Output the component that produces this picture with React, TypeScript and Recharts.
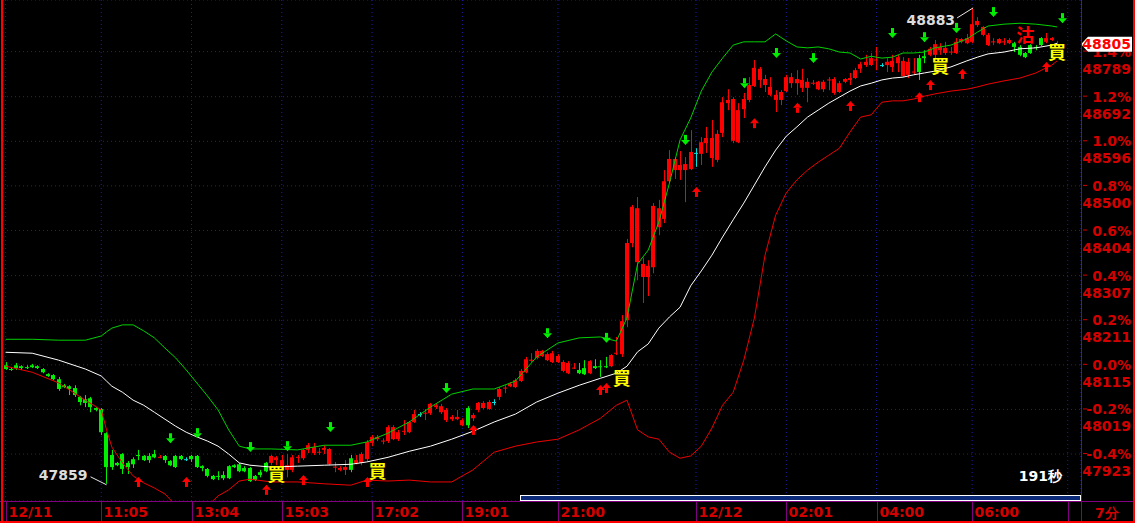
import React from 'react';
import {
  ComposedChart,
  Bar,
  Line,
  XAxis,
  YAxis,
  CartesianGrid,
} from 'recharts';

// 7-minute candles: [open, high, low, close]
const ohlc: [number, number, number, number][] = [
  [48114, 48121, 48104, 48106], [48106, 48110, 48102, 48105], [48114, 48119, 48104, 48108], [48112, 48114, 48104, 48108],
  [48110, 48114, 48106, 48109], [48114, 48117, 48108, 48110], [48112, 48114, 48106, 48108], [48106, 48108, 48097, 48099],
  [48095, 48097, 48089, 48091], [48093, 48095, 48082, 48084], [48084, 48089, 48059, 48063], [48071, 48074, 48065, 48067],
  [48069, 48071, 48050, 48063], [48065, 48071, 48046, 48050], [48046, 48048, 48028, 48035], [48041, 48050, 48024, 48033],
  [48043, 48046, 48013, 48024], [48022, 48024, 48015, 48018], [48020, 48022, 47964, 47970], [47968, 47970, 47859, 47895],
  [47921, 47932, 47889, 47895], [47904, 47906, 47897, 47899], [47923, 47925, 47880, 47891], [47904, 47908, 47880, 47895],
  [47912, 47916, 47893, 47901], [47921, 47932, 47910, 47920], [47919, 47921, 47908, 47910], [47919, 47925, 47904, 47910],
  [47923, 47932, 47914, 47916], [47916, 47921, 47914, 47917], [47919, 47921, 47904, 47910], [47908, 47910, 47897, 47899],
  [47919, 47921, 47893, 47895], [47919, 47921, 47910, 47912], [47912, 47916, 47908, 47912], [47919, 47921, 47906, 47912],
  [47919, 47921, 47893, 47895], [47897, 47899, 47886, 47893], [47891, 47893, 47873, 47876], [47876, 47878, 47867, 47869],
  [47876, 47886, 47867, 47874], [47878, 47886, 47867, 47871], [47897, 47899, 47869, 47871], [47899, 47901, 47893, 47895],
  [47901, 47904, 47884, 47886], [47893, 47897, 47884, 47886], [47893, 47895, 47863, 47865], [47876, 47878, 47865, 47867],
  [47884, 47889, 47873, 47878], [47904, 47906, 47884, 47886], [47904, 47921, 47899, 47919], [47910, 47919, 47899, 47916],
  [47897, 47921, 47889, 47910], [47889, 47923, 47873, 47899], [47889, 47921, 47884, 47916], [47916, 47921, 47904, 47917],
  [47914, 47934, 47910, 47932], [47932, 47947, 47925, 47942], [47925, 47947, 47921, 47938], [47927, 47936, 47921, 47928],
  [47932, 47942, 47923, 47936], [47901, 47936, 47899, 47934], [47895, 47906, 47884, 47896], [47889, 47897, 47886, 47893],
  [47889, 47910, 47878, 47895], [47914, 47921, 47884, 47889], [47904, 47921, 47901, 47910], [47904, 47927, 47899, 47923],
  [47912, 47953, 47908, 47949], [47947, 47964, 47940, 47960], [47955, 47964, 47951, 47960], [47951, 47957, 47944, 47952],
  [47951, 47985, 47947, 47981], [47955, 47985, 47953, 47981], [47955, 47975, 47951, 47970], [47972, 47996, 47964, 47973],
  [47970, 47994, 47968, 47992], [47992, 48018, 47990, 48009], [48009, 48013, 48003, 48009], [48011, 48020, 47996, 48012],
  [48011, 48033, 48007, 48031], [48024, 48033, 48020, 48028], [48013, 48031, 48009, 48026], [47996, 48022, 47992, 48018],
  [47998, 48007, 47994, 48003], [47998, 48018, 47996, 48003], [47985, 48000, 47983, 47996], [48022, 48026, 47979, 47985],
  [48000, 48011, 47994, 48007], [48018, 48035, 48013, 48033], [48022, 48037, 48020, 48033], [48020, 48039, 48018, 48035],
  [48035, 48041, 48028, 48035], [48046, 48067, 48039, 48063], [48065, 48071, 48054, 48066], [48069, 48078, 48067, 48074],
  [48067, 48086, 48065, 48082], [48080, 48106, 48078, 48102], [48099, 48132, 48097, 48127], [48125, 48140, 48121, 48126],
  [48130, 48149, 48127, 48145], [48134, 48147, 48132, 48145], [48125, 48142, 48123, 48138], [48121, 48145, 48119, 48140],
  [48121, 48138, 48119, 48134], [48102, 48125, 48099, 48121], [48097, 48123, 48095, 48119], [48108, 48119, 48106, 48109],
  [48104, 48119, 48095, 48097], [48108, 48125, 48093, 48095], [48097, 48125, 48095, 48123], [48112, 48127, 48106, 48108],
  [48112, 48125, 48089, 48111], [48112, 48132, 48108, 48110], [48112, 48138, 48110, 48136], [48140, 48175, 48136, 48141],
  [48138, 48222, 48132, 48209], [48211, 48386, 48196, 48377], [48377, 48459, 48368, 48455], [48336, 48476, 48297, 48452],
  [48304, 48345, 48248, 48332], [48304, 48340, 48263, 48328], [48325, 48463, 48312, 48457], [48411, 48470, 48394, 48452],
  [48429, 48534, 48420, 48510], [48510, 48577, 48508, 48558], [48534, 48562, 48515, 48558], [48534, 48575, 48513, 48545],
  [48534, 48562, 48465, 48547], [48536, 48620, 48534, 48573], [48571, 48581, 48541, 48571], [48569, 48605, 48545, 48594],
  [48592, 48627, 48571, 48603], [48560, 48642, 48541, 48603], [48556, 48620, 48551, 48612], [48614, 48691, 48605, 48680],
  [48678, 48708, 48663, 48685], [48597, 48691, 48592, 48687], [48594, 48678, 48592, 48663], [48665, 48700, 48646, 48687],
  [48685, 48734, 48680, 48717], [48715, 48771, 48713, 48754], [48728, 48756, 48711, 48752], [48717, 48739, 48702, 48730],
  [48696, 48734, 48693, 48713], [48685, 48706, 48659, 48696], [48685, 48706, 48674, 48702], [48704, 48739, 48702, 48734],
  [48721, 48743, 48711, 48734], [48721, 48749, 48696, 48730], [48711, 48752, 48702, 48728], [48711, 48732, 48680, 48724],
  [48721, 48728, 48717, 48722], [48708, 48726, 48706, 48724], [48708, 48728, 48702, 48724], [48728, 48734, 48706, 48729],
  [48700, 48734, 48696, 48730], [48702, 48726, 48700, 48721], [48724, 48732, 48721, 48730], [48728, 48743, 48717, 48732],
  [48732, 48754, 48730, 48749], [48752, 48767, 48743, 48762], [48760, 48782, 48756, 48767], [48760, 48786, 48758, 48775],
  [48771, 48799, 48749, 48772], [48760, 48764, 48756, 48760], [48760, 48775, 48745, 48767], [48756, 48782, 48745, 48769],
  [48764, 48782, 48745, 48777], [48736, 48777, 48734, 48769], [48739, 48775, 48732, 48767], [48745, 48775, 48739, 48746],
  [48775, 48782, 48728, 48745], [48779, 48792, 48764, 48775], [48782, 48799, 48779, 48795], [48782, 48814, 48775, 48805],
  [48792, 48807, 48782, 48799], [48786, 48810, 48782, 48797], [48788, 48799, 48782, 48789], [48786, 48818, 48784, 48810],
  [48810, 48818, 48807, 48816], [48807, 48827, 48805, 48818], [48810, 48883, 48807, 48848], [48846, 48863, 48842, 48855],
  [48825, 48844, 48822, 48842], [48803, 48829, 48801, 48825], [48810, 48818, 48803, 48811], [48807, 48818, 48805, 48816],
  [48810, 48818, 48803, 48811], [48807, 48818, 48805, 48814], [48807, 48810, 48788, 48799], [48799, 48803, 48779, 48782],
  [48786, 48788, 48775, 48777], [48803, 48805, 48784, 48786], [48799, 48803, 48792, 48798], [48818, 48820, 48801, 48803],
  [48810, 48829, 48807, 48818], [48814, 48820, 48812, 48818], [48803, 48812, 48801, 48805],
];

// Bollinger bands, read at these candle slots
const bandIdx = [0, 5, 10, 15, 18, 19, 20, 22, 24, 26, 28, 30, 32, 34, 36, 38, 40, 42, 44, 46, 50, 55, 60, 65, 68, 72, 76, 80, 84, 88, 92, 96, 100, 104, 108, 112, 115, 117, 119, 121, 123, 125, 127, 129, 131, 133, 135, 137, 139, 141, 143, 145, 147, 149, 151, 153, 155, 157, 159, 161, 163, 165, 167, 169, 171, 173, 175, 178, 181, 183, 185, 188, 191, 194, 197, 198];
const upperBand = [48170, 48170, 48168, 48168, 48177, 48186, 48194, 48201, 48201, 48188, 48173, 48151, 48130, 48104, 48076, 48048, 48018, 47975, 47940, 47934, 47934, 47932, 47942, 47942, 47949, 47968, 47992, 48024, 48052, 48063, 48063, 48080, 48132, 48162, 48173, 48175, 48166, 48216, 48332, 48362, 48422, 48506, 48599, 48646, 48704, 48745, 48775, 48803, 48810, 48810, 48810, 48827, 48812, 48799, 48797, 48799, 48795, 48788, 48786, 48773, 48779, 48775, 48777, 48786, 48786, 48788, 48797, 48803, 48816, 48831, 48844, 48848, 48850, 48848, 48844, 48842];
const midBand = [48142, 48140, 48125, 48106, 48091, 48080, 48069, 48056, 48039, 48028, 48013, 47998, 47983, 47970, 47960, 47951, 47940, 47923, 47904, 47899, 47895, 47897, 47899, 47901, 47906, 47916, 47929, 47940, 47955, 47972, 47992, 48009, 48035, 48054, 48071, 48086, 48097, 48112, 48143, 48160, 48194, 48218, 48239, 48285, 48317, 48351, 48390, 48427, 48463, 48502, 48541, 48577, 48607, 48627, 48648, 48663, 48678, 48691, 48704, 48715, 48721, 48728, 48732, 48734, 48739, 48743, 48747, 48756, 48769, 48777, 48784, 48788, 48795, 48797, 48803, 48807];
const lowerBand = [48112, 48099, 48076, 48039, 48018, 47975, 47938, 47904, 47876, 47861, 47850, 47837, 47813, 47802, 47802, 47811, 47833, 47846, 47865, 47869, 47863, 47863, 47859, 47856, 47867, 47865, 47867, 47863, 47863, 47889, 47927, 47940, 47949, 47955, 47975, 48000, 48028, 48039, 47975, 47960, 47955, 47927, 47914, 47919, 47940, 47979, 48028, 48056, 48125, 48216, 48351, 48437, 48485, 48513, 48534, 48551, 48566, 48581, 48616, 48648, 48653, 48680, 48683, 48683, 48687, 48693, 48698, 48704, 48708, 48713, 48719, 48726, 48732, 48743, 48760, 48769];

// signal marks
const sellIdx = [31, 36, 46, 53, 61, 83, 102, 113, 128, 139, 145, 152, 167, 173, 179, 186, 199];
const sellPx = [47957, 47968, 47938, 47940, 47981, 48065, 48183, 48173, 48599, 48721, 48786, 48775, 48829, 48820, 48840, 48874, 48861];
const upIdx = [25, 34, 49, 56, 68, 88, 112, 113, 130, 141, 149, 159, 172, 174, 180, 196];
const upPx = [47863, 47863, 47846, 47867, 47863, 47975, 48061, 48065, 48487, 48635, 48668, 48672, 48691, 48717, 48741, 48756];
const buyIdx = [51, 70, 116, 176, 198];
const buyPx = [47880, 47886, 48086, 48758, 48788];
const outIdx = [192];
const outPx = [48825];

const xTickIdx = [0, 18, 35, 52, 69, 86, 104, 130, 147, 164, 182, 200];
const xTickLabels = ['12/11', '11:05', '13:04', '15:03', '17:02', '19:01', '21:00', '12/12', '02:01', '04:00', '06:00', ''];
const priceTicks = [47923, 48019, 48115, 48211, 48307, 48404, 48500, 48596, 48692, 48789];
const pctLabels = ['-0.4%', '-0.2%', '0.0%', '0.2%', '0.4%', '0.6%', '0.8%', '1.0%', '1.2%', '1.4%'];

const SLOTS = 203;
const Y_MIN = 47822;
const Y_MAX = 48900;

const RED = '#ff0000';
const GREEN = '#00ee00';
const AXIS_RED = '#d40000';
const PURPLE = '#800080';
const FONT = '"DejaVu Sans", sans-serif';
const CJK = '"Noto Sans CJK TC", sans-serif';

const lastIdx = ohlc.length - 1;
const hiIdx = ohlc.reduce((b, c, i) => (c[1] > ohlc[b][1] ? i : b), 0);
const loIdx = ohlc.reduce((b, c, i) => (c[2] < ohlc[b][2] ? i : b), 0);
const lastClose = ohlc[lastIdx][3];

const pick = (idx: number[], vals: number[], i: number) => {
  const k = idx.indexOf(i);
  return k >= 0 ? vals[k] : null;
};

const rows = Array.from({ length: SLOTS }, (_, i) => {
  const c = ohlc[i];
  return {
    i,
    open: c ? c[0] : null,
    high: c ? c[1] : null,
    low: c ? c[2] : null,
    close: c ? c[3] : null,
    upper: pick(bandIdx, upperBand, i),
    mid: pick(bandIdx, midBand, i),
    lower: pick(bandIdx, lowerBand, i),
    sell: pick(sellIdx, sellPx, i),
    up: pick(upIdx, upPx, i),
    buy: pick(buyIdx, buyPx, i),
    out: pick(outIdx, outPx, i),
    hiMark: i === hiIdx ? ohlc[i][1] : null,
    loMark: i === loIdx ? ohlc[i][2] : null,
    tag: i === lastIdx ? lastClose : null,
  };
});

function Candle(props: any) {
  const { x, y, width, height, payload } = props;
  if (!payload || payload.open == null || !Number.isFinite(y)) return <g />;
  const { open, close, high, low } = payload;
  const top = Math.min(y, y + height);
  const span = Math.abs(height);
  const toPx = (v: number) => (high === low ? top : top + ((high - v) / (high - low)) * span);
  const left = Math.round(x + width / 2 - 2);
  const color = close > open ? RED : close < open ? GREEN : '#00e0e0';
  const bTop = toPx(Math.max(open, close));
  const bBot = toPx(Math.min(open, close));
  return (
    <g>
      <rect x={left + 2} y={top} width={1} height={Math.max(1, span)} fill={color} />
      <rect x={left} y={bTop} width={4} height={Math.max(1, bBot - bTop)} fill={color} />
    </g>
  );
}

const blank = (p: any, k: string) => <g key={`${k}-${p.index}`} />;
const valid = (p: any) => p.value != null && Number.isFinite(p.cy) && Number.isFinite(p.cx);

const sellDot = (p: any) => {
  if (!valid(p)) return blank(p, 's');
  const { cx, cy } = p;
  const x = Math.round(cx);
  return (
    <g key={`s-${p.index}`} fill={GREEN}>
      <rect x={x - 1} y={cy - 5} width={3} height={5} />
      <polygon points={`${x - 4},${cy} ${x + 5},${cy} ${x + 0.5},${cy + 5}`} />
    </g>
  );
};

const upDot = (p: any) => {
  if (!valid(p)) return blank(p, 'u');
  const { cx, cy } = p;
  const x = Math.round(cx);
  return (
    <g key={`u-${p.index}`} fill={RED}>
      <polygon points={`${x - 4},${cy} ${x + 5},${cy} ${x + 0.5},${cy - 5}`} />
      <rect x={x - 1} y={cy} width={3} height={5} />
    </g>
  );
};

const textDot = (label: string, color: string) => (p: any) => {
  if (!valid(p)) return blank(p, label);
  return (
    <text key={`${label}-${p.index}`} x={p.cx} y={p.cy + 7} textAnchor="middle" fill={color}
      fontFamily={CJK} fontWeight="bold" fontSize={18}>
      {label}
    </text>
  );
};

const hiDot = (p: any) => {
  if (!valid(p)) return blank(p, 'h');
  const { cx, cy } = p;
  return (
    <g key={`h-${p.index}`}>
      <line x1={cx - 15} y1={cy + 10} x2={cx + 1} y2={cy} stroke="#e8e8e8" />
      <text x={cx - 17} y={cy + 17} textAnchor="end" fill="#dcdcdc" fontFamily={FONT} fontWeight="bold" fontSize={14}>
        {p.value}
      </text>
    </g>
  );
};

const loDot = (p: any) => {
  if (!valid(p)) return blank(p, 'l');
  const { cx, cy } = p;
  return (
    <g key={`l-${p.index}`}>
      <line x1={cx - 16} y1={cy - 7} x2={cx} y2={cy + 1} stroke="#e8e8e8" />
      <text x={cx - 19} y={cy - 4} textAnchor="end" fill="#dcdcdc" fontFamily={FONT} fontWeight="bold" fontSize={14}>
        {p.value}
      </text>
    </g>
  );
};

function TimeTick(props: any) {
  const { x, y, payload } = props;
  const label = xTickLabels[xTickIdx.indexOf(payload.value)] ?? '';
  const xx = Math.round(x) + 0.5;
  return (
    <g>
      <line x1={xx} x2={xx} y1={y} y2={y + 20} stroke={PURPLE} />
      <text x={xx + 2} y={y + 16} fill={AXIS_RED} fontFamily={FONT} fontWeight="bold" fontSize={14}>
        {label}
      </text>
    </g>
  );
}

function PriceTick(props: any) {
  const { x, y, payload } = props;
  const k = priceTicks.indexOf(payload.value);
  return (
    <g fontFamily={FONT} fontWeight="bold" fontSize={14} fill={AXIS_RED}>
      <line x1={x + 2} x2={x + 6} y1={y - 0.5} y2={y - 0.5} stroke={AXIS_RED} />
      <text x={x + 50} y={y + 5} textAnchor="end">{pctLabels[k]}</text>
      <text x={x + 50} y={y + 22} textAnchor="end">{payload.value}</text>
    </g>
  );
}

// last-price tag, drawn by a thin axis placed after the price axis so it sits on top
function TagTick(props: any) {
  const { x, y, payload } = props;
  if (!Number.isFinite(y)) return <g />;
  const xl = x - 53;
  return (
    <g>
      <polygon
        points={`${xl},${y} ${xl + 7},${y - 7.5} ${xl + 51},${y - 7.5} ${xl + 51},${y + 7.5} ${xl + 7},${y + 7.5}`}
        fill="#ffffff"
      />
      <text x={xl + 50} y={y + 5} textAnchor="end" fill={RED} fontFamily={FONT} fontWeight="bold" fontSize={14}>
        {payload.value}
      </text>
    </g>
  );
}

export default function App() {
  return (
    <div style={{ position: 'fixed', left: 0, top: 0, width: 1135, height: 523, background: '#000' }}>
      <ComposedChart width={1135} height={523} data={rows} margin={{ top: 0, right: 0, bottom: 0, left: 3 }}>
        <CartesianGrid stroke="#1c1cb0" strokeDasharray="1 3" />
        <XAxis
          dataKey="i"
          type="category"
          ticks={xTickIdx}
          interval={0}
          tick={(p: any) => <TimeTick {...p} />}
          tickLine={false}
          axisLine={false}
          tickSize={0}
          tickMargin={0}
          height={22}
        />
        <YAxis
          orientation="right"
          type="number"
          domain={[Y_MIN, Y_MAX]}
          allowDataOverflow
          ticks={priceTicks}
          interval={0}
          tick={(p: any) => <PriceTick {...p} />}
          tickLine={false}
          axisLine={false}
          tickSize={0}
          tickMargin={0}
          width={53}
        />
        <YAxis
          yAxisId="tag"
          orientation="right"
          type="number"
          domain={[Y_MIN, Y_MAX]}
          allowDataOverflow
          ticks={[lastClose]}
          interval={0}
          tick={(p: any) => <TagTick {...p} />}
          tickLine={false}
          axisLine={false}
          tickSize={0}
          tickMargin={0}
          width={1}
        />
        <Bar
          dataKey={(d: any) => (d.open == null ? null : [d.low, d.high])}
          shape={(p: any) => <Candle {...p} />}
          isAnimationActive={false}
        />
        <Line dataKey="upper" stroke="#00d000" strokeWidth={1} dot={false} connectNulls isAnimationActive={false} />
        <Line dataKey="mid" stroke="#ffffff" strokeWidth={1} dot={false} connectNulls isAnimationActive={false} />
        <Line dataKey="lower" stroke="#ee0000" strokeWidth={1} dot={false} connectNulls isAnimationActive={false} />
        <Line dataKey="sell" stroke="none" dot={sellDot} activeDot={false} isAnimationActive={false} />
        <Line dataKey="up" stroke="none" dot={upDot} activeDot={false} isAnimationActive={false} />
        <Line dataKey="buy" stroke="none" dot={textDot('買', '#ffff00')} activeDot={false} isAnimationActive={false} />
        <Line dataKey="out" stroke="none" dot={textDot('沽', RED)} activeDot={false} isAnimationActive={false} />
        <Line dataKey="hiMark" stroke="none" dot={hiDot} activeDot={false} isAnimationActive={false} />
        <Line dataKey="loMark" stroke="none" dot={loDot} activeDot={false} isAnimationActive={false} />
        <Line yAxisId="tag" dataKey="tag" stroke="none" dot={false} activeDot={false} isAnimationActive={false} />
      </ComposedChart>
      <svg width={1135} height={523} style={{ position: 'absolute', left: 0, top: 0, pointerEvents: 'none' }}>
        <rect x={520.5} y={495.5} width={560} height={5} fill="#0b2a78" stroke="#ffffff" strokeWidth={1} />
        <line x1={0} x2={1133} y1={501.5} y2={501.5} stroke={PURPLE} />
        <line x1={1081.5} x2={1081.5} y1={0} y2={521} stroke={PURPLE} />
        <rect x={1} y={0} width={2} height={523} fill={RED} />
        <rect x={0} y={521} width={1135} height={2} fill={RED} />
        <rect x={1133} y={0} width={2} height={523} fill={RED} />
        <text x={1062} y={481} textAnchor="end" fill="#ffffff" fontFamily={FONT} fontWeight="bold" fontSize={14}>
          191秒
        </text>
        <text x={1095} y={518} fill={AXIS_RED} fontFamily={FONT} fontWeight="bold" fontSize={14}>
          7分
        </text>
      </svg>
    </div>
  );
}
